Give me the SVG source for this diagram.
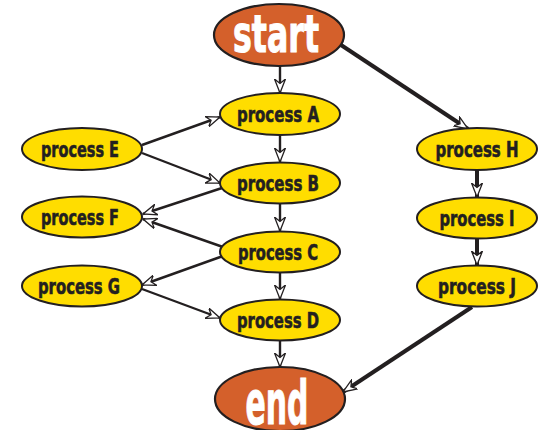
<svg xmlns="http://www.w3.org/2000/svg" width="539" height="430" viewBox="0 0 539 430">
<defs>
<style>
.proc ellipse{fill:#FFDD00;stroke:#231F20;stroke-width:2}
.term ellipse{fill:#D4602B;stroke:#231F20;stroke-width:2.2}
.proc text{font-family:"Liberation Sans Narrow","DejaVu Sans Condensed","Liberation Sans",sans-serif;font-weight:bold;font-size:22px;fill:#231F20;stroke:#231F20;stroke-width:0.6;text-anchor:middle}
.term text{font-family:"Liberation Sans Narrow","DejaVu Sans Condensed","Liberation Sans",sans-serif;font-weight:bold;fill:#FFFFFF;stroke:#FFFFFF;stroke-width:1;text-anchor:middle}
.e{stroke:#231F20;stroke-width:2.4;fill:none;marker-end:url(#arr)}
.t{stroke:#231F20;stroke-width:4;fill:none;marker-end:url(#arr)}
</style>
<marker id="arr" markerUnits="userSpaceOnUse" markerWidth="16" markerHeight="12" refX="14" refY="6" orient="auto" viewBox="0 0 16 12">
<path d="M0,0.5 L14,6 L0,11.5 L4.5,6 Z" fill="#FFFFFF" stroke="#231F20" stroke-width="1.3" stroke-linejoin="miter"/>
</marker>
</defs>
<g id="connectors">
<line class="e" x1="280" y1="66" x2="280" y2="93"/>
<line class="e" x1="280" y1="136" x2="280" y2="162"/>
<line class="e" x1="280" y1="204" x2="280" y2="231"/>
<line class="e" x1="280" y1="273" x2="280" y2="299"/>
<line class="e" x1="280" y1="341" x2="280" y2="367"/>
<line class="e" x1="142" y1="145" x2="220" y2="117"/>
<line class="e" x1="142" y1="153" x2="220" y2="183"/>
<line class="e" x1="222" y1="188" x2="143" y2="214"/>
<line class="e" x1="223" y1="247" x2="143" y2="219"/>
<line class="e" x1="223" y1="256" x2="142" y2="285"/>
<line class="e" x1="142" y1="289" x2="220" y2="318"/>
<line class="t" x1="341" y1="45" x2="468" y2="129"/>
<line class="t" x1="477" y1="170" x2="477" y2="197"/>
<line class="t" x1="477" y1="239" x2="477" y2="265"/>
<line class="t" x1="472" y1="307" x2="343" y2="392"/>
</g>
<g id="start" class="term">
<ellipse cx="279" cy="35" rx="65" ry="31"/>
<text x="276" y="52" font-size="52" textLength="86" lengthAdjust="spacingAndGlyphs">start</text>
</g>
<g id="processA" class="proc">
<ellipse cx="280" cy="114" rx="60" ry="21"/>
<text x="278" y="122" textLength="82" lengthAdjust="spacingAndGlyphs">process A</text>
</g>
<g id="processB" class="proc">
<ellipse cx="280" cy="183" rx="60" ry="20.5"/>
<text x="278" y="191" textLength="82" lengthAdjust="spacingAndGlyphs">process B</text>
</g>
<g id="processC" class="proc">
<ellipse cx="280" cy="252" rx="60" ry="20.5"/>
<text x="278" y="260" textLength="80" lengthAdjust="spacingAndGlyphs">process C</text>
</g>
<g id="processD" class="proc">
<ellipse cx="280" cy="320" rx="60" ry="20.5"/>
<text x="278" y="328" textLength="82" lengthAdjust="spacingAndGlyphs">process D</text>
</g>
<g id="processE" class="proc">
<ellipse cx="82" cy="149" rx="60" ry="21"/>
<text x="80" y="157" textLength="78" lengthAdjust="spacingAndGlyphs">process E</text>
</g>
<g id="processF" class="proc">
<ellipse cx="82" cy="217" rx="60" ry="20.5"/>
<text x="80" y="225" textLength="78" lengthAdjust="spacingAndGlyphs">process F</text>
</g>
<g id="processG" class="proc">
<ellipse cx="82" cy="286" rx="60" ry="20.5"/>
<text x="79" y="294" textLength="82" lengthAdjust="spacingAndGlyphs">process G</text>
</g>
<g id="processH" class="proc">
<ellipse cx="477" cy="149" rx="60" ry="21"/>
<text x="477" y="157" textLength="83" lengthAdjust="spacingAndGlyphs">process H</text>
</g>
<g id="processI" class="proc">
<ellipse cx="477" cy="218" rx="60" ry="20.5"/>
<text x="477" y="226" textLength="75" lengthAdjust="spacingAndGlyphs">process I</text>
</g>
<g id="processJ" class="proc">
<ellipse cx="477" cy="286" rx="60" ry="20.5"/>
<text x="477" y="294" textLength="78" lengthAdjust="spacingAndGlyphs">process J</text>
</g>
<g id="end" class="term">
<ellipse cx="280" cy="399" rx="65" ry="32"/>
<text x="277" y="424" font-size="60" textLength="63" lengthAdjust="spacingAndGlyphs">end</text>
</g>
</svg>
